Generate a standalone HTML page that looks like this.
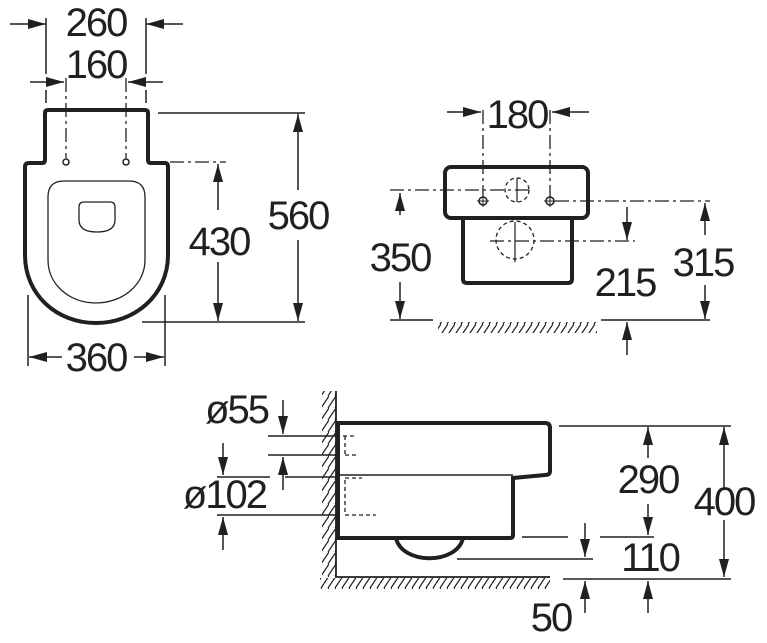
<!DOCTYPE html>
<html><head><meta charset="utf-8"><style>
html,body{margin:0;padding:0;background:#fff;}
svg{display:block;}
text{font-family:"Liberation Sans",Arial,sans-serif;font-size:40px;letter-spacing:-2px;fill:#231f20;}
</style></head><body>
<svg width="767" height="643" viewBox="0 0 767 643" xmlns="http://www.w3.org/2000/svg">
<defs>
<marker id="a" markerUnits="userSpaceOnUse" markerWidth="20" markerHeight="12" refX="18" refY="5" orient="auto"><path d="M0,0 L18,5 L0,10 Z" fill="#231f20"/></marker>
<pattern id="h" patternUnits="userSpaceOnUse" width="7" height="12"><path d="M-1,12 L7,0 M6,12 L14,0" stroke="#231f20" stroke-width="1.2"/></pattern>
</defs>
<g stroke="#231f20" fill="none">
<path d="M45,113 Q45,110 48,110 L145,110 Q148,110 148,113 L148,160 Q148,163 151,163 L165,163 Q168,163 168,167 L168,255 C168,295 135,323 96,323 C57,323 25,295 25,255 L25,167 Q25,163 29,163 L42,163 Q45,163 45,160 Z" stroke-width="4"/>
<path d="M48,197 Q48,181 64,181 L129,181 Q145,181 145,197 L145,260 C145,285 122,303 96,303 C70,303 48,285 48,260 Z" stroke-width="1.3"/>
<path d="M79,207 Q79,202 84,202 L110,202 Q115,202 115,207 L115,220 Q115,232 97,232 Q79,232 79,220 Z" stroke-width="1.3"/>
<g stroke-width="1.3" stroke-dasharray="14 4 3 4">
<path d="M66,78 V158 M126,78 V158 M170,162 H226"/>
</g>
<circle cx="66" cy="162" r="3" stroke-width="1.5"/><circle cx="126" cy="162" r="3" stroke-width="1.5"/>
<g stroke-width="1.5">
<path d="M46,18 V74 M46,90 V103 M146,18 V74 M146,90 V103"/>
<path d="M158,113 H305 M142,322 H305 M28,295 V366 M165,295 V366"/>
<path d="M10,24 H46" marker-end="url(#a)"/><path d="M183,24 H146" marker-end="url(#a)"/>
<path d="M30,82 H64" marker-end="url(#a)"/><path d="M163,82 H128" marker-end="url(#a)"/>
<path d="M298,190 V114" marker-end="url(#a)"/><path d="M298,240 V321" marker-end="url(#a)"/>
<path d="M218,210 V164" marker-end="url(#a)"/><path d="M218,262 V321" marker-end="url(#a)"/>
<path d="M62,357 H29" marker-end="url(#a)"/><path d="M134,357 H164" marker-end="url(#a)"/>
</g>
<rect x="445" y="167" width="143" height="51" rx="6" stroke-width="4"/>
<path d="M463,218 L463,279 Q463,283 467,283 L568,283 Q572,283 572,279 L572,218" stroke-width="4"/>
<g stroke-width="1.3" stroke-dasharray="14 4 3 4">
<path d="M483,110 V197 M550,110 V197 M390,190 H530 M555,201 H710 M490,241 H635"/>
</g>
<g stroke-width="1.3" stroke-dasharray="4 3">
<circle cx="517" cy="190" r="12"/><circle cx="515" cy="240" r="19"/>
</g>
<path d="M517,178 V202 M515,222 V262" stroke-width="1.2"/>
<circle cx="483" cy="201" r="4" stroke-width="1.5"/><circle cx="550" cy="201" r="4" stroke-width="1.5"/>
<path d="M477,201 H489 M483,195 V207 M544,201 H556 M550,195 V207" stroke-width="1"/>
<g stroke-width="1.5">
<path d="M447,112 H481" marker-end="url(#a)"/><path d="M589,112 H552" marker-end="url(#a)"/>
<path d="M390,320 H433 M601,320 H710"/>
<path d="M400,215 V193" marker-end="url(#a)"/><path d="M400,282 V319" marker-end="url(#a)"/>
<path d="M705,235 V203" marker-end="url(#a)"/><path d="M705,285 V319" marker-end="url(#a)"/>
<path d="M627,207 V240" marker-end="url(#a)"/><path d="M627,355 V322" marker-end="url(#a)"/>
</g>
<rect x="438" y="322" width="159" height="11" fill="url(#h)" stroke="none"/>
<rect x="322" y="391" width="14" height="186" fill="url(#h)" stroke="none"/>
<rect x="320" y="578" width="230" height="11" fill="url(#h)" stroke="none"/>
<path d="M336,391 V577 H550" stroke-width="1.8"/>
<path d="M338,423 L545,423 Q550,423 550,428 L550,471 Q550,475 545,475 L513,478 L513,535 Q513,538 510,538 L338,538 Z" stroke-width="4"/>
<path d="M396,538 C402,565 457,565 463,538" stroke-width="4"/>
<path d="M338,475 H513" stroke-width="1.5"/>
<g stroke-width="1.3" stroke-dasharray="4 3">
<path d="M343,436 H354 M345,436 V455 M345,455 H357 M345,480 V515 M345,515 H376 M345,478 H362"/>
</g>
<g stroke-width="1.5">
<path d="M268,436 H340 M268,455 H340 M217,477 H270 M285,477 H340 M217,515 H340"/>
<path d="M283,400 V434" marker-end="url(#a)"/><path d="M283,490 V457" marker-end="url(#a)"/>
<path d="M223,443 V475" marker-end="url(#a)"/><path d="M223,550 V517" marker-end="url(#a)"/>
<path d="M559,426 H731 M522,537 H568 M600,537 H654 M457,559 H593 M563,579 H731"/>
<path d="M648,458 V427" marker-end="url(#a)"/><path d="M648,504 V535" marker-end="url(#a)"/>
<path d="M724,488 V427" marker-end="url(#a)"/><path d="M724,520 V577" marker-end="url(#a)"/>
<path d="M585,523 V557" marker-end="url(#a)"/>
<path d="M585,613 V581" marker-end="url(#a)"/><path d="M648,613 V581" marker-end="url(#a)"/>
</g>
</g>
<g text-anchor="middle">
<text x="96" y="36">260</text>
<text x="96" y="78">160</text>
<text x="298" y="229">560</text>
<text x="219" y="255">430</text>
<text x="96" y="371">360</text>
<text x="517" y="128">180</text>
<text x="400" y="271">350</text>
<text x="703" y="276">315</text>
<text x="625" y="296">215</text>
<text x="648" y="493">290</text>
<text x="650" y="571">110</text>
<text x="724" y="515">400</text>
<text x="551" y="631">50</text>
</g>
<g text-anchor="end">
<text x="268" y="423">ø55</text>
<text x="266" y="508">ø102</text>
</g>
</svg>
</body></html>
